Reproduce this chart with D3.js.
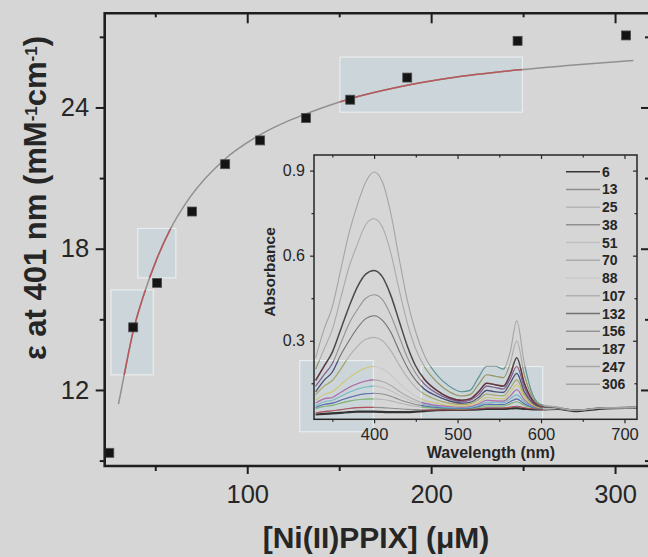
<!DOCTYPE html>
<html lang="en">
  <head>
    <meta charset="utf-8">
    <title>Ni(II)PPIX titration</title>
    <script type="text/javascript" src="https://cdn.jsdelivr.net/npm/d3@7"></script>
    <style>
      body { margin: 0; background: #d6d6d6; }
      text { font-family: "Liberation Sans", Arial, sans-serif; fill: #262626; }
    </style>
  </head>
  <body>
    <script type="text/javascript">
    // ---- main plot data: epsilon at 401 nm vs [Ni(II)PPIX] ----
    var conc = [25, 38, 51, 70, 88, 107, 132, 156, 187, 247, 306];
    var eps = [9.33, 14.66, 16.55, 19.58, 21.59, 22.6, 23.55, 24.33, 25.27, 26.83, 27.06];

    // fitted curve
    var fitX = [30, 33, 38, 44, 51, 58, 69, 87, 105, 123, 131, 155, 183, 210, 248, 274, 310];
    var fitY = [11.4, 12.6, 14.5, 16.1, 17.6, 18.8, 20.2, 21.75, 22.75, 23.45, 23.7, 24.35, 24.88, 25.25, 25.6, 25.78, 26.0];

    var xTicks = [100, 200, 300];
    var xMinor = [50, 150, 250];
    var yTicks = [12, 18, 24];
    var yMinor = [9, 15, 21, 27];

    // ---- inset data: absorbance spectra ----
    var legendLabels = ["6", "13", "25", "38", "51", "70", "88", "107", "132", "156", "187", "247", "306"];
    var wavelengths = [330, 340, 350, 360, 370, 380, 390, 400, 410, 420, 430, 440, 450, 460, 475, 490, 505, 515, 525, 535, 545, 555, 563, 571, 580, 590, 600, 620, 640, 670, 715];

    var abs6 = [0.04, 0.042, 0.044, 0.046, 0.048, 0.05, 0.05, 0.05, 0.049, 0.048, 0.048, 0.048, 0.05, 0.052, 0.055, 0.056, 0.056, 0.057, 0.058, 0.06, 0.06, 0.06, 0.061, 0.062, 0.06, 0.058, 0.058, 0.06, 0.052, 0.06, 0.064];
    var abs13 = [0.045, 0.05, 0.053, 0.057, 0.061, 0.064, 0.065, 0.065, 0.064, 0.062, 0.06, 0.058, 0.057, 0.056, 0.056, 0.057, 0.057, 0.058, 0.06, 0.063, 0.063, 0.063, 0.066, 0.069, 0.064, 0.06, 0.058, 0.06, 0.054, 0.061, 0.064];
    var abs25 = [0.06, 0.068, 0.072, 0.08, 0.087, 0.092, 0.094, 0.095, 0.093, 0.088, 0.081, 0.074, 0.069, 0.065, 0.062, 0.06, 0.059, 0.06, 0.064, 0.07, 0.07, 0.07, 0.077, 0.085, 0.072, 0.064, 0.06, 0.061, 0.055, 0.062, 0.065];
    var abs38 = [0.065, 0.075, 0.08, 0.09, 0.1, 0.108, 0.113, 0.115, 0.112, 0.104, 0.093, 0.083, 0.075, 0.07, 0.065, 0.062, 0.061, 0.062, 0.068, 0.076, 0.075, 0.075, 0.085, 0.095, 0.078, 0.066, 0.06, 0.061, 0.055, 0.062, 0.065];
    var abs51 = [0.07, 0.085, 0.09, 0.104, 0.118, 0.13, 0.137, 0.14, 0.135, 0.124, 0.108, 0.094, 0.083, 0.075, 0.068, 0.064, 0.063, 0.065, 0.072, 0.083, 0.082, 0.081, 0.095, 0.109, 0.085, 0.068, 0.061, 0.062, 0.055, 0.062, 0.065];
    var abs70 = [0.08, 0.095, 0.1, 0.118, 0.135, 0.148, 0.158, 0.162, 0.156, 0.142, 0.122, 0.104, 0.09, 0.08, 0.072, 0.068, 0.066, 0.068, 0.077, 0.09, 0.088, 0.087, 0.105, 0.127, 0.092, 0.07, 0.062, 0.062, 0.055, 0.062, 0.065];
    var abs88 = [0.09, 0.11, 0.12, 0.145, 0.17, 0.19, 0.204, 0.209, 0.2, 0.18, 0.15, 0.125, 0.105, 0.09, 0.08, 0.072, 0.07, 0.072, 0.083, 0.1, 0.097, 0.095, 0.118, 0.144, 0.1, 0.072, 0.063, 0.063, 0.055, 0.062, 0.065];
    var abs107 = [0.11, 0.14, 0.16, 0.2, 0.245, 0.28, 0.305, 0.312, 0.3, 0.265, 0.215, 0.17, 0.135, 0.112, 0.092, 0.08, 0.075, 0.078, 0.092, 0.112, 0.108, 0.106, 0.132, 0.162, 0.11, 0.076, 0.064, 0.063, 0.055, 0.062, 0.065];
    var abs132 = [0.12, 0.16, 0.19, 0.25, 0.3, 0.345, 0.378, 0.388, 0.372, 0.33, 0.265, 0.205, 0.16, 0.13, 0.105, 0.088, 0.08, 0.083, 0.1, 0.125, 0.12, 0.118, 0.15, 0.185, 0.12, 0.08, 0.066, 0.064, 0.055, 0.062, 0.065];
    var abs156 = [0.14, 0.18, 0.22, 0.29, 0.36, 0.41, 0.45, 0.462, 0.445, 0.39, 0.315, 0.24, 0.185, 0.148, 0.115, 0.095, 0.085, 0.09, 0.11, 0.14, 0.135, 0.13, 0.165, 0.21, 0.135, 0.085, 0.068, 0.064, 0.055, 0.062, 0.065];
    var abs187 = [0.16, 0.21, 0.26, 0.34, 0.42, 0.49, 0.535, 0.548, 0.525, 0.46, 0.37, 0.28, 0.21, 0.165, 0.125, 0.1, 0.09, 0.095, 0.12, 0.15, 0.145, 0.14, 0.18, 0.24, 0.15, 0.09, 0.07, 0.064, 0.055, 0.062, 0.065];
    var abs247 = [0.2, 0.27, 0.34, 0.45, 0.56, 0.64, 0.71, 0.73, 0.7, 0.61, 0.48, 0.36, 0.27, 0.21, 0.155, 0.12, 0.105, 0.11, 0.145, 0.18, 0.175, 0.17, 0.22, 0.3, 0.18, 0.1, 0.072, 0.065, 0.055, 0.062, 0.065];
    var abs306 = [0.24, 0.34, 0.42, 0.55, 0.68, 0.78, 0.86, 0.895, 0.86, 0.75, 0.59, 0.44, 0.33, 0.25, 0.18, 0.14, 0.12, 0.125, 0.17, 0.21, 0.21, 0.2, 0.26, 0.37, 0.22, 0.11, 0.075, 0.066, 0.055, 0.062, 0.065];

    var insetXTicks = [400, 500, 600, 700];
    var insetXMinor = [350, 450, 550, 650];
    var insetYTicks = [0.3, 0.6, 0.9];
    var insetYMinor = [0.15, 0.45, 0.75];

    var spectra = [abs6, abs13, abs25, abs38, abs51, abs70, abs88, abs107, abs132, abs156, abs187, abs247, abs306];

    // line looks: grey where the scan lost colour, colour inside the tinted boxes
    var greys = ["#343434", "#8e8e8e", "#b6b6b6", "#909090", "#bfbfbf", "#aaaaaa", "#c8c8c8", "#b0b0b0", "#707070", "#949494", "#4a4a4a", "#aaaaaa", "#a4a4a4"];
    var colours = ["#333333", "#c8283a", "#5cb84a", "#3b55c8", "#45b8d0", "#b040b0", "#d8c838", "#a8a030", "#303880", "#7a3a90", "#8a2030", "#8a8a30", "#2a8a8a"];

    // tinted scan boxes (data units)
    var mainBoxes = [[25.9, 48.9, 12.64, 16.25], [40.5, 61.2, 16.76, 18.86], [150.4, 249.6, 23.8, 26.14]];
    var insetBoxes = [[311, 399, -0.021, 0.23], [456.5, 602, 0.023, 0.209]];

    var w = 648;
    var h = 557;

    var svg = d3.select("body")
                .append("svg")
                .attr("width", w)
                .attr("height", h);

    svg.append("rect").attr("width", w).attr("height", h).attr("fill", "#d6d6d6");

    // main scales
    var x = d3.scaleLinear().domain([22.5, 319]).range([104.7, 650]);
    var y = d3.scaleLinear().domain([8.77, 28.0]).range([466, 13.3]);

    // inset scales
    var ix = d3.scaleLinear().domain([328, 715]).range([314, 637]);
    var iy = d3.scaleLinear().domain([0.023, 0.955]).range([419.3, 155]);

    var boxStyle = function(sel) {
      sel.attr("fill", "#ccd6da").attr("stroke", "#eef1f2").attr("stroke-width", 1);
    };

    // tinted boxes
    svg.selectAll("rect.mbox")
       .data(mainBoxes)
       .enter()
       .append("rect")
       .attr("class", "mbox")
       .attr("x", function(d) { return x(d[0]); })
       .attr("y", function(d) { return y(d[3]); })
       .attr("width", function(d) { return x(d[1]) - x(d[0]); })
       .attr("height", function(d) { return y(d[2]) - y(d[3]); })
       .call(boxStyle);

    svg.selectAll("rect.ibox")
       .data(insetBoxes)
       .enter()
       .append("rect")
       .attr("class", "ibox")
       .attr("x", function(d) { return ix(d[0]); })
       .attr("y", function(d) { return iy(d[3]); })
       .attr("width", function(d) { return ix(d[1]) - ix(d[0]); })
       .attr("height", function(d) { return iy(d[2]) - iy(d[3]); })
       .call(boxStyle);

    var defs = svg.append("defs");
    var mclip = defs.append("clipPath").attr("id", "mclip");
    mainBoxes.forEach(function(d) {
      mclip.append("rect").attr("x", x(d[0])).attr("y", y(d[3]))
           .attr("width", x(d[1]) - x(d[0])).attr("height", y(d[2]) - y(d[3]));
    });
    var iclip = defs.append("clipPath").attr("id", "iclip");
    insetBoxes.forEach(function(d) {
      iclip.append("rect").attr("x", Math.max(ix(d[0]), 314)).attr("y", iy(d[3]))
           .attr("width", ix(d[1]) - Math.max(ix(d[0]), 314)).attr("height", iy(d[2]) - iy(d[3]));
    });
    defs.append("clipPath").attr("id", "iframe")
        .append("rect").attr("x", 314).attr("y", 155).attr("width", 323).attr("height", 264.3);

    // ---- main fit curve ----
    var fitData = fitX.map(function(v, i) { return [v, fitY[i]]; });
    var fitLine = d3.line()
                    .x(function(d) { return x(d[0]); })
                    .y(function(d) { return y(d[1]); })
                    .curve(d3.curveMonotoneX);

    svg.append("path").attr("d", fitLine(fitData))
       .attr("fill", "none").attr("stroke", "#909090").attr("stroke-width", 1.5);
    svg.append("path").attr("d", fitLine(fitData))
       .attr("clip-path", "url(#mclip)")
       .attr("fill", "none").attr("stroke", "#b8585a").attr("stroke-width", 1.5);

    // data squares
    svg.selectAll("rect.pt")
       .data(conc)
       .enter()
       .append("rect")
       .attr("class", "pt")
       .attr("x", function(d) { return x(d) - 4.5; })
       .attr("y", function(d, i) { return y(eps[i]) - 4.5; })
       .attr("width", 9)
       .attr("height", 9)
       .attr("fill", "#141414")
       .attr("stroke", "#505050")
       .attr("stroke-width", 0.8);

    // ---- main axes ----
    var axisStyle = function(g) {
      g.select(".domain").remove();
      g.selectAll("line").attr("stroke", "#1e1e1e").attr("stroke-width", 2);
      g.selectAll("text").style("fill", "#262626").style("font-size", "25.5px");
    };

    svg.append("g").attr("transform", "translate(0,466)")
       .call(d3.axisBottom(x).tickValues(xTicks).tickSize(8).tickPadding(11))
       .call(axisStyle);
    svg.append("g").attr("transform", "translate(0,466)")
       .call(d3.axisBottom(x).tickValues(xMinor).tickSize(5).tickFormat(""))
       .call(axisStyle);
    svg.append("g").attr("transform", "translate(0,13.3)")
       .call(d3.axisTop(x).tickValues(xTicks).tickSize(-10).tickFormat(""))
       .call(axisStyle);
    svg.append("g").attr("transform", "translate(0,13.3)")
       .call(d3.axisTop(x).tickValues(xMinor).tickSize(-4).tickFormat(""))
       .call(axisStyle);

    svg.append("g").attr("transform", "translate(104.7,0)")
       .call(d3.axisLeft(y).tickValues(yTicks).tickSize(9).tickPadding(6.5))
       .call(axisStyle);
    svg.append("g").attr("transform", "translate(104.7,0)")
       .call(d3.axisLeft(y).tickValues(yMinor).tickSize(5).tickFormat(""))
       .call(axisStyle);
    svg.append("g").attr("transform", "translate(649,0)")
       .call(d3.axisRight(y).tickValues(yTicks).tickSize(-8).tickFormat(""))
       .call(axisStyle);
    svg.append("g").attr("transform", "translate(649,0)")
       .call(d3.axisRight(y).tickValues(yMinor).tickSize(-4).tickFormat(""))
       .call(axisStyle);

    // frame
    svg.append("path")
       .attr("d", "M650,13.3H104.7V466H650")
       .attr("fill", "none").attr("stroke", "#1e1e1e").attr("stroke-width", 2.6);

    // axis titles
    svg.append("text")
       .attr("x", 376).attr("y", 548)
       .attr("text-anchor", "middle")
       .style("font-size", "30px").style("font-weight", "bold")
       .text("[Ni(II)PPIX] (\u03BCM)");

    var yt = svg.append("text")
       .attr("transform", "translate(46,198) rotate(-90)")
       .attr("text-anchor", "middle")
       .style("font-size", "31px").style("font-weight", "bold");
    yt.append("tspan").text("\u03B5 at 401 nm (mM");
    yt.append("tspan").attr("baseline-shift", "super").style("font-size", "17px").text("-1");
    yt.append("tspan").text("cm");
    yt.append("tspan").attr("baseline-shift", "super").style("font-size", "17px").text("-1");
    yt.append("tspan").text(")");

    // ---- inset spectra ----
    var specLine = d3.line()
                     .x(function(d, i) { return ix(wavelengths[i]); })
                     .y(function(d) { return iy(d); })
                     .curve(d3.curveMonotoneX);

    var specG = svg.append("g").attr("clip-path", "url(#iframe)");
    specG.selectAll("path.grey")
         .data(spectra)
         .enter()
         .append("path")
         .attr("class", "grey")
         .attr("d", specLine)
         .attr("fill", "none")
         .attr("stroke", function(d, i) { return greys[i]; })
         .attr("stroke-width", function(d, i) { return i === 0 ? 2.2 : (i === 10 ? 1.5 : 1.1); });

    var colG = svg.append("g").attr("clip-path", "url(#iclip)");
    colG.selectAll("path.col")
        .data(spectra)
        .enter()
        .append("path")
        .attr("class", "col")
        .attr("d", specLine)
        .attr("fill", "none")
        .attr("stroke", function(d, i) { return colours[i]; })
        .attr("stroke-opacity", 0.6)
        .attr("stroke-width", 1.1);

    // inset axes
    var insetStyle = function(g) {
      g.select(".domain").remove();
      g.selectAll("line").attr("stroke", "#262626").attr("stroke-width", 1.2);
      g.selectAll("text").style("fill", "#262626");
    };

    svg.append("g").attr("transform", "translate(0,419.3)")
       .call(d3.axisBottom(ix).tickValues(insetXTicks).tickSize(4).tickPadding(5))
       .call(insetStyle)
       .selectAll("text").style("font-size", "16.5px");
    svg.append("g").attr("transform", "translate(0,419.3)")
       .call(d3.axisBottom(ix).tickValues(insetXMinor).tickSize(2.5).tickFormat(""))
       .call(insetStyle);
    svg.append("g").attr("transform", "translate(0,155)")
       .call(d3.axisTop(ix).tickValues(insetXTicks).tickSize(-4).tickFormat(""))
       .call(insetStyle);
    svg.append("g").attr("transform", "translate(0,155)")
       .call(d3.axisTop(ix).tickValues(insetXMinor).tickSize(-2.5).tickFormat(""))
       .call(insetStyle);

    svg.append("g").attr("transform", "translate(314,0)")
       .call(d3.axisLeft(iy).tickValues(insetYTicks).tickSize(4).tickPadding(5).tickFormat(d3.format(".1f")))
       .call(insetStyle)
       .selectAll("text").style("font-size", "16px");
    svg.append("g").attr("transform", "translate(314,0)")
       .call(d3.axisLeft(iy).tickValues(insetYMinor).tickSize(2.5).tickFormat(""))
       .call(insetStyle);
    svg.append("g").attr("transform", "translate(637,0)")
       .call(d3.axisRight(iy).tickValues(insetYTicks).tickSize(-4).tickFormat(""))
       .call(insetStyle);
    svg.append("g").attr("transform", "translate(637,0)")
       .call(d3.axisRight(iy).tickValues(insetYMinor).tickSize(-2.5).tickFormat(""))
       .call(insetStyle);

    svg.append("rect")
       .attr("x", 314).attr("y", 155).attr("width", 323).attr("height", 264.3)
       .attr("fill", "none").attr("stroke", "#262626").attr("stroke-width", 1.5);

    svg.append("text")
       .attr("x", 491).attr("y", 458)
       .attr("text-anchor", "middle")
       .style("font-size", "16px").style("font-weight", "bold")
       .text("Wavelength (nm)");

    svg.append("text")
       .attr("transform", "translate(275,272) rotate(-90)")
       .attr("text-anchor", "middle")
       .style("font-size", "15.5px").style("font-weight", "bold")
       .text("Absorbance");

    // legend
    var leg = svg.selectAll("g.leg")
                 .data(legendLabels)
                 .enter()
                 .append("g")
                 .attr("class", "leg")
                 .attr("transform", function(d, i) { return "translate(566," + (171.7 + i * 17.72) + ")"; });
    leg.append("line")
       .attr("x1", 0).attr("x2", 34).attr("y1", 0).attr("y2", 0)
       .attr("stroke", function(d, i) { return greys[i]; })
       .attr("stroke-width", 1.5);
    leg.append("text")
       .attr("x", 36).attr("y", 0).attr("dy", "0.36em")
       .style("font-size", "14px").style("font-weight", "bold")
       .text(function(d) { return d; });

    </script>
  </body>
</html>
